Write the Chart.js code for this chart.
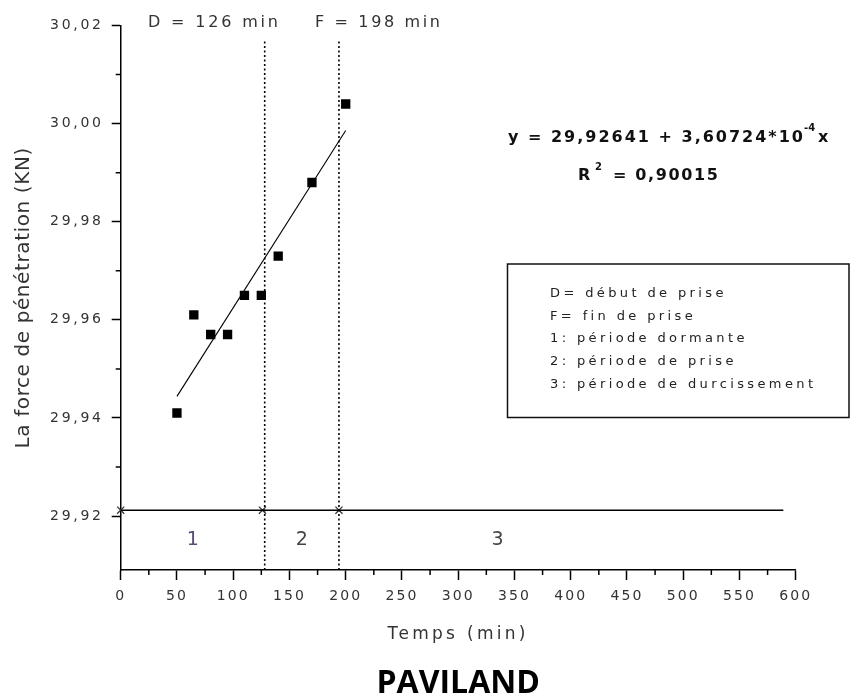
<!DOCTYPE html>
<html>
<head>
<meta charset="utf-8">
<script src="https://cdn.jsdelivr.net/npm/chart.js@4/dist/chart.umd.min.js"></script>
<style>
  html, body { margin: 0; padding: 0; background: #fff; }
  #wrap { width: 851px; height: 697px; position: relative; }
</style>
</head>
<body>
<div id="wrap"><canvas id="c" width="851" height="697"></canvas></div>
<script>
// ---- data ----
const timeMin = [50, 65, 80, 95, 110, 125, 140, 170, 200];
const force   = [29.941, 29.961, 29.957, 29.957, 29.965, 29.965, 29.973, 29.988, 30.004];

const fitX = [50, 200];
const fitY = [29.9444, 29.9986];

const baselineX = [0, 589];
const baselineY = [29.9212, 29.9212];

const crossX = [0, 126, 194];
const crossY = [29.9212, 29.9212, 29.9212];

const dLineX = [128, 128];
const fLineX = [194, 194];
const markerLineY = [29.909, 30.017];

const xMin = 0, xMax = 600, xStep = 50;
const xMinorTicks = [25, 75, 125, 175, 225, 275, 325, 375, 425, 475, 525, 575];
const yMin = 29.909, yMax = 30.02;
const yMajorTicks = [29.92, 29.94, 29.96, 29.98, 30.00, 30.02];
const yMinorTicks = [29.93, 29.95, 29.97, 29.99, 30.01];

const regionLabels = ['1', '2', '3'];
const regionLabelX = [64, 161, 335];
const regionLabelY = 29.9155;

const markerLabels = ['D = 126 min', 'F = 198 min'];
const legendLines = ['D= début de prise', 'F= fin de prise', '1: période dormante', '2: période de prise', '3: période de durcissement'];
const chartName = 'PAVILAND';

// ---- helpers ----
const FONT = '"DejaVu Sans", Verdana, sans-serif';
function pts(xs, ys) { return xs.map((x, i) => ({ x: x, y: ys[i] })); }
function spaced(fn, ls) {
  return function () {
    const ctx = this.ctx;
    const prev = ctx.letterSpacing;
    ctx.letterSpacing = ls;
    try { return fn.apply(this, arguments); } finally { ctx.letterSpacing = prev; }
  };
}
function spacingFor(ctx, text, font, targetW) {
  ctx.save();
  ctx.font = font;
  ctx.letterSpacing = '0px';
  const w0 = ctx.measureText(text).width;
  ctx.restore();
  return (targetW - w0) / Math.max(1, text.length - 1);
}
function drawText(ctx, text, x, y, font, color, ls, align) {
  ctx.save();
  ctx.font = font;
  ctx.fillStyle = color;
  ctx.letterSpacing = (ls || 0) + 'px';
  ctx.textAlign = align || 'left';
  ctx.textBaseline = 'alphabetic';
  ctx.fillText(text, x, y);
  ctx.restore();
}
function drawFit(ctx, text, x, y, font, color, targetW) {
  drawText(ctx, text, x, y, font, color, spacingFor(ctx, text, font, targetW));
}

const spacingPlugin = {
  id: 'spacing',
  beforeDraw(chart) {
    const sx = chart.scales.x, sy = chart.scales.y;
    if (!sx._patched) {
      sx.drawLabels = spaced(sx.drawLabels, '2px');
      sx.drawTitle = spaced(sx.drawTitle, '3.3px');
      sx._patched = true;
    }
    if (!sy._patched) {
      sy.drawLabels = spaced(sy.drawLabels, '2.7px');
      sy.drawTitle = spaced(sy.drawTitle, '0.6px');
      sy._patched = true;
    }
  }
};

const annotPlugin = {
  id: 'annot',
  afterDraw(chart) {
    const ctx = chart.ctx;
    const sx = chart.scales.x, sy = chart.scales.y;
    const ca = chart.chartArea;

    // minor ticks
    ctx.save();
    ctx.strokeStyle = '#000';
    ctx.lineWidth = 1.5;
    ctx.beginPath();
    xMinorTicks.forEach(v => {
      const px = sx.getPixelForValue(v);
      ctx.moveTo(px, ca.bottom);
      ctx.lineTo(px, ca.bottom + 5);
    });
    yMinorTicks.forEach(v => {
      const py = sy.getPixelForValue(v);
      ctx.moveTo(ca.left, py);
      ctx.lineTo(ca.left - 5, py);
    });
    ctx.stroke();
    ctx.restore();

    // D / F labels
    const reg16 = '16px ' + FONT;
    drawFit(ctx, markerLabels[0], 148, 27, reg16, '#333', 130);
    drawFit(ctx, markerLabels[1], 315, 27, reg16, '#333', 125);

    // equation
    const bold = 'bold 16px ' + FONT;
    const sup = 'bold 10px ' + FONT;
    drawFit(ctx, 'y = 29,92641 + 3,60724*10', 508, 142, bold, '#111', 295);
    drawText(ctx, '-4', 804, 131, sup, '#111', 0);
    drawText(ctx, 'x', 818, 142, bold, '#111', 0);
    drawText(ctx, 'R', 578, 180, bold, '#111', 0);
    drawText(ctx, '2', 595, 170, sup, '#111', 0);
    drawFit(ctx, '= 0,90015', 613, 180, bold, '#111', 105);

    // legend box
    ctx.save();
    ctx.strokeStyle = '#111';
    ctx.lineWidth = 1.5;
    ctx.strokeRect(507.5, 264, 341.5, 153.5);
    ctx.restore();
    const lf = '13px ' + FONT;
    const lls = spacingFor(ctx, legendLines[4], lf, 263);
    legendLines.forEach((t, i) => {
      drawText(ctx, t, 550, 297 + i * 22.7, lf, '#222', lls);
    });

    // region labels
    regionLabels.forEach((t, i) => {
      const px = sx.getPixelForValue(regionLabelX[i]);
      const py = sy.getPixelForValue(regionLabelY);
      drawText(ctx, t, px, py + 7, '19px ' + FONT, i === 0 ? '#5a4a72' : '#444', 0, 'center');
    });

    // chart name
    drawText(ctx, chartName, (ca.left + ca.right) / 2, 693, 'bold 32px "Open Sans", "Liberation Sans", sans-serif', '#000', 0, 'center');
  }
};

const ctx = document.getElementById('c').getContext('2d');
new Chart(ctx, {
  type: 'scatter',
  data: {
    datasets: [
      {
        label: 'baseline',
        data: pts(baselineX, baselineY),
        showLine: true, borderColor: '#000', borderWidth: 1.5,
        pointRadius: 0, clip: false
      },
      {
        label: 'D',
        data: pts(dLineX, markerLineY),
        showLine: true, borderColor: '#000', borderWidth: 1.6, borderDash: [2, 2.5],
        pointRadius: 0
      },
      {
        label: 'F',
        data: pts(fLineX, markerLineY),
        showLine: true, borderColor: '#000', borderWidth: 1.6, borderDash: [2, 2.5],
        pointRadius: 0
      },
      {
        label: 'fit',
        data: pts(fitX, fitY),
        showLine: true, borderColor: '#000', borderWidth: 1.1,
        pointRadius: 0
      },
      {
        label: 'cross',
        data: pts(crossX, crossY),
        showLine: false, pointStyle: 'crossRot', pointRadius: 5,
        borderColor: '#333', borderWidth: 1.3, clip: false
      },
      {
        label: 'Force',
        data: pts(timeMin, force),
        showLine: false, pointStyle: 'rect', pointRadius: 6.6,
        backgroundColor: '#000', borderColor: '#000', borderWidth: 0
      }
    ]
  },
  options: {
    responsive: false,
    animation: false,
    devicePixelRatio: 1,
    events: [],
    layout: { padding: { left: 0, top: 25.5, right: 55.3, bottom: 0 } },
    plugins: {
      legend: { display: false },
      title: { display: false },
      tooltip: { enabled: false }
    },
    scales: {
      x: {
        type: 'linear', min: xMin, max: xMax,
        afterFit(s) { s.height = 127; },
        ticks: {
          stepSize: xStep, color: '#333', padding: 8,
          font: { family: FONT, size: 14 },
          callback: v => String(v), maxRotation: 0, autoSkip: false
        },
        grid: { drawOnChartArea: false, drawTicks: true, tickLength: 10, tickWidth: 1.5, tickColor: '#000' },
        border: { display: true, color: '#000', width: 1.5 },
        title: {
          display: true, text: 'Temps (min)', color: '#333',
          font: { family: FONT, size: 17 }, padding: { top: 0, bottom: 52 }
        }
      },
      y: {
        type: 'linear', min: yMin, max: yMax,
        afterFit(s) { s.width = 120.7; },
        afterBuildTicks(s) { s.ticks = yMajorTicks.map(v => ({ value: v })); },
        ticks: {
          color: '#333', padding: 8,
          font: { family: FONT, size: 14 },
          callback: v => v.toFixed(2).replace('.', ',')
        },
        grid: { drawOnChartArea: false, drawTicks: true, tickLength: 9, tickWidth: 1.5, tickColor: '#000' },
        border: { display: true, color: '#000', width: 1.5 },
        title: {
          display: true, text: 'La force de pénétration (KN)', color: '#333',
          font: { family: FONT, size: 20 }, padding: { top: 12, bottom: 0 }
        }
      }
    }
  },
  plugins: [spacingPlugin, annotPlugin]
});
</script>
</body>
</html>
